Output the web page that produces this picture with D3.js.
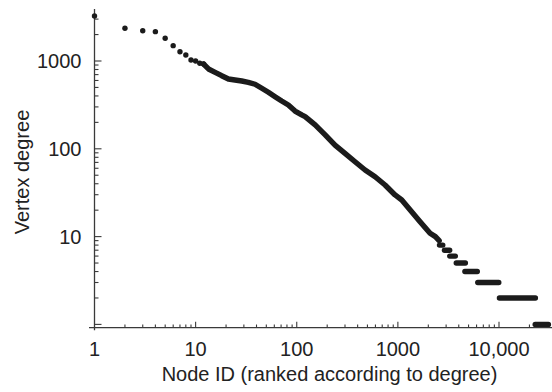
<!DOCTYPE html>
<html>
<head>
<meta charset="utf-8">
<script src="https://cdn.jsdelivr.net/npm/d3@7"></script>
<style>
  html, body { margin: 0; padding: 0; background: #fff; }
  svg { display: block; }
  text { font-family: "Liberation Sans", Arial, sans-serif; fill: #222; }
</style>
</head>
<body>
<svg id="chart" width="552" height="392"></svg>
<script>
// ---- data ----
// top-ranked nodes, drawn as single dots
const topRanks   = [1, 2, 3, 4, 5, 6, 7, 8, 9, 10, 11, 12];
const topDegrees = [3250, 2360, 2210, 2160, 1815, 1495, 1275, 1170, 1027, 1000, 941, 924];

// dense part of the ranked list (so many nodes that the dots merge into a band)
const curveRanks   = [12, 13.4, 15.6, 18.1, 21.1, 24.5, 28.6, 33.2, 38.7, 45.1, 52.4, 61, 71, 82.6, 96.2, 112, 121, 152, 191, 239, 300, 377, 474, 595, 747, 938, 1093, 1658, 2082, 2350, 2560];
const curveDegrees = [924, 811, 743, 680, 624, 608, 592, 572, 543, 489, 440, 392, 350, 315, 269, 243, 232, 187, 144, 110, 88.9, 71.3, 57.4, 48.1, 38.7, 29.8, 26.1, 14.8, 10.9, 10, 9];

// low-degree tail: every node of a given degree occupies a run of ranks
const plateauDegrees = [8, 7, 6, 5, 4, 3, 2, 1];
const plateauFirst   = [2580, 2890, 3260, 3780, 4600, 6170, 10100, 22800];
const plateauLast    = [2780, 3250, 3700, 4650, 6100, 9950, 22900, 30800];

// axis tick labels
const xTickValues = [1, 10, 100, 1000, 10000];
const xTickLabels = ["1", "10", "100", "1000", "10,000"];
const yTickValues = [10, 100, 1000];
const yTickLabels = ["10", "100", "1000"];

// ---- drawing ----
const svg = d3.select("#chart");
const ink = "#1b1b1b";
const axisColor = "#3a3a3a";

const x = d3.scaleLog().domain([1, 10000]).range([94.5, 499]);
const y = d3.scaleLog().domain([1, 1000]).range([324.4, 61]);

const axisY = 327.7;      // x-axis line position
const plotTop = 9;
const plotRight = 552;

// axis lines
svg.append("line")
  .attr("x1", x(1) - 5.5).attr("x2", plotRight)
  .attr("y1", axisY).attr("y2", axisY)
  .attr("stroke", axisColor).attr("stroke-width", 1.3);
svg.append("line")
  .attr("x1", x(1)).attr("x2", x(1))
  .attr("y1", plotTop).attr("y2", axisY + 2.5)
  .attr("stroke", axisColor).attr("stroke-width", 1.3);

// x ticks (pointing up, inside)
const xMax = x.invert(plotRight);
const xTicks = [];
for (let d = 1; d <= 10000; d *= 10) {
  for (let m = 1; m <= 9; m++) {
    const v = d * m;
    if (v <= xMax && v > 1) xTicks.push({v, major: m === 1});
  }
}
svg.append("g").selectAll("line").data(xTicks).join("line")
  .attr("x1", d => x(d.v)).attr("x2", d => x(d.v))
  .attr("y1", axisY).attr("y2", d => axisY - (d.major ? 6 : 3.2))
  .attr("stroke", axisColor).attr("stroke-width", 1.1);

// y ticks (pointing right, inside)
const yMax = y.invert(plotTop);
const yTicks = [];
for (let d = 1; d <= 1000; d *= 10) {
  for (let m = 1; m <= 9; m++) {
    const v = d * m;
    if (v <= yMax) yTicks.push({v, major: m === 1});
  }
}
svg.append("g").selectAll("line").data(yTicks).join("line")
  .attr("x1", x(1)).attr("x2", d => x(1) + (d.major ? 7 : 4))
  .attr("y1", d => y(d.v)).attr("y2", d => y(d.v))
  .attr("stroke", axisColor).attr("stroke-width", 1.1);

// tick labels
svg.append("g").selectAll("text").data(xTickValues).join("text")
  .attr("x", d => x(d)).attr("y", 356)
  .attr("text-anchor", "middle")
  .attr("font-size", 20)
  .text((d, i) => xTickLabels[i]);

svg.append("g").selectAll("text").data(yTickValues).join("text")
  .attr("x", 81.5).attr("y", d => y(d) + 7)
  .attr("text-anchor", "end")
  .attr("font-size", 20)
  .text((d, i) => yTickLabels[i]);

// axis titles
svg.append("text")
  .attr("x", 329.5).attr("y", 381)
  .attr("text-anchor", "middle")
  .attr("font-size", 20)
  .text("Node ID (ranked according to degree)");

svg.append("text")
  .attr("transform", "translate(29,172) rotate(-90)")
  .attr("text-anchor", "middle")
  .attr("font-size", 20)
  .text("Vertex degree");

// dense band
svg.append("path")
  .datum(curveRanks.map((r, i) => [r, curveDegrees[i]]))
  .attr("d", d3.line().x(d => x(d[0])).y(d => y(d[1])))
  .attr("fill", "none")
  .attr("stroke", ink)
  .attr("stroke-width", 5.4)
  .attr("stroke-linecap", "round")
  .attr("stroke-linejoin", "round");

// plateaus of equal degree
svg.append("g").selectAll("line").data(plateauDegrees).join("line")
  .attr("x1", (d, i) => x(plateauFirst[i]))
  .attr("x2", (d, i) => x(plateauLast[i]))
  .attr("y1", d => y(d)).attr("y2", d => y(d))
  .attr("stroke", ink)
  .attr("stroke-width", 5.4)
  .attr("stroke-linecap", "round");

// individual top nodes
svg.append("g").selectAll("circle").data(topRanks).join("circle")
  .attr("cx", d => x(d))
  .attr("cy", (d, i) => y(topDegrees[i]))
  .attr("r", 2.7)
  .attr("fill", ink);
</script>
</body>
</html>
